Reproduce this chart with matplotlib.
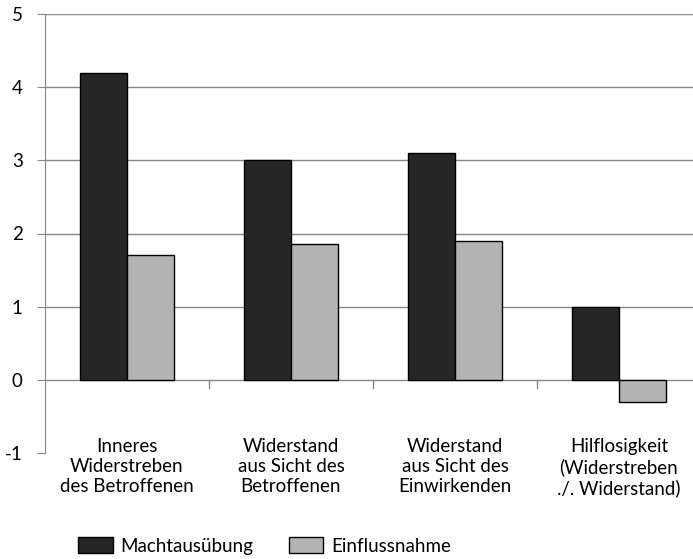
import matplotlib
matplotlib.use("Agg")
import matplotlib.pyplot as plt
import numpy as np
from matplotlib.patches import Patch

# Daten
categories = [
    "Inneres\nWiderstreben\ndes Betroffenen",
    "Widerstand\naus Sicht des\nBetroffenen",
    "Widerstand\naus Sicht des\nEinwirkenden",
    "Hilflosigkeit\n(Widerstreben\n./. Widerstand)",
]
machtausuebung = [4.2, 3.0, 3.1, 1.0]
einflussnahme = [1.7, 1.85, 1.9, -0.3]
series_names = ["Machtausübung", "Einflussnahme"]
y_ticks = [-1, 0, 1, 2, 3, 4, 5]

plt.rcParams['font.family'] = ['Lato', 'DejaVu Sans']

fig = plt.figure(figsize=(6.93, 5.59), dpi=100)
ax = fig.add_axes([45 / 693, 1 - 453 / 559, (701 - 45) / 693, (453 - 14) / 559])

x = np.arange(len(categories))
w = 0.287
dark = "#262626"
light = "#b3b3b3"
ax.bar(x - w / 2, machtausuebung, w, color=dark, edgecolor="black", linewidth=1, zorder=3)
ax.bar(x + w / 2, einflussnahme, w, color=light, edgecolor="black", linewidth=1, zorder=3)

ax.set_xlim(-0.5, len(categories) - 0.5)
ax.set_ylim(-1, 5)
ax.set_yticks(y_ticks)
ax.set_yticklabels([str(t) for t in y_ticks], fontsize=13.5)
ax.tick_params(axis="y", length=6, color="#888888", pad=10)

# Gitterlinien
for t in y_ticks[1:]:
    ax.axhline(t, color="#888888", linewidth=1, zorder=1)

# x-Achse bei 0 mit Kategorie-Trennstrichen
ax.set_xticks([])
for b in np.arange(0.5, len(categories) - 0.5, 1.0):
    ax.plot([b, b], [0, -0.11], color="#888888", linewidth=1, zorder=2, clip_on=False)

for i, lab in enumerate(categories):
    ax.text(i, -0.80, lab, ha="center", va="top", fontsize=13.5, linespacing=1.2)

for s in ["top", "right", "bottom"]:
    ax.spines[s].set_visible(False)
ax.spines["left"].set_color("#888888")

handles = [Patch(facecolor=dark, edgecolor="black"), Patch(facecolor=light, edgecolor="black")]
fig.legend(handles, series_names, loc="center left", bbox_to_anchor=(78 / 693, 1 - 546 / 559),
           ncol=2, frameon=False, fontsize=13.5, handlelength=1.85, handleheight=0.95,
           handletextpad=0.4, columnspacing=1.9, borderpad=0, borderaxespad=0)

fig.savefig("out.png", dpi=100)
